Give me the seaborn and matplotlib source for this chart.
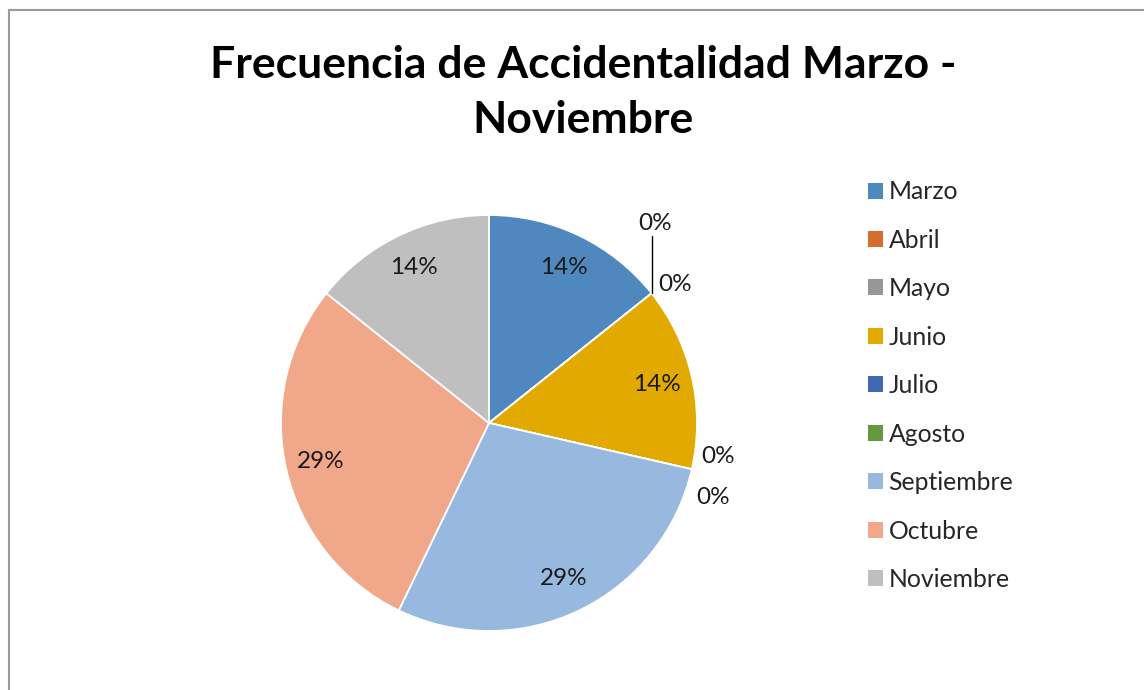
import numpy as np
import matplotlib
matplotlib.use("Agg")
import matplotlib.pyplot as plt
import seaborn as sns
from matplotlib.patches import Patch, Rectangle


months = ['Marzo', 'Abril', 'Mayo', 'Junio', 'Julio', 'Agosto',
          'Septiembre', 'Octubre', 'Noviembre']
accidents = [1, 0, 0, 1, 0, 0, 2, 2, 1]
colors = ['#4F88BE', '#D56E2D', '#979797', '#E2AA00', '#3E6AB4',
          '#66993E', '#97B8DF', '#F0A78A', '#BFBFBF']

sns.set_theme(style="white")
plt.rcParams['font.family'] = ['Lato', 'DejaVu Sans']

fig = plt.figure(figsize=(11.44, 6.9), dpi=100)
fig.patch.set_facecolor('white')

# frame of the chart area (left and top edges visible)
fig.add_artist(Rectangle((9 / 1144, -0.1), 1.2, (690 - 10) / 690 + 0.1,
                         transform=fig.transFigure, fill=False,
                         edgecolor='#9a9a9a', linewidth=1.5))

ax = fig.add_axes([281 / 1144, 59 / 690, 416 / 1144, 416 / 690])

total = sum(accidents)
wedges, _ = ax.pie(accidents, colors=colors, startangle=90, counterclock=False,
                   radius=1, wedgeprops=dict(edgecolor='white', linewidth=1.3))
ax.set_xlim(-1, 1)
ax.set_ylim(-1, 1)
ax.set_aspect('equal')
ax.axis('off')

# data labels
zero_offsets = {'Abril': (0.8, 0.96, True), 'Mayo': (0.895, 0.668, False),
                'Julio': (1.1, -0.163, False), 'Agosto': (1.077, -0.356, False)}
for w, m, v in zip(wedges, months, accidents):
    pct = '{:.0f}%'.format(100 * v / total)
    if v > 0:
        mid = np.deg2rad((w.theta1 + w.theta2) / 2)
        ax.text(0.83 * np.cos(mid), 0.83 * np.sin(mid), pct, ha='center',
                va='center', fontsize=17.5, color='#1a1a1a')
    else:
        ang = np.deg2rad(w.theta1)
        ex, ey = np.cos(ang), np.sin(ang)
        lx, ly, line = zero_offsets[m]
        ax.text(lx, ly, pct, ha='center', va='center', fontsize=17.5,
                color='#1a1a1a', clip_on=False)
        if line:
            ax.plot([ex, ex], [ey, 0.9], color='black', linewidth=1,
                    clip_on=False)

fig.text(0.51, 0.866, 'Frecuencia de Accidentalidad Marzo -\nNoviembre',
         ha='center', va='center', fontsize=32, fontweight='bold',
         linespacing=1.45, color='black')

handles = [Patch(facecolor=c, edgecolor='none') for c in colors]
fig.legend(handles, months, loc='upper left', bbox_to_anchor=(0.739, 0.771),
           frameon=False, fontsize=17.8, handlelength=0.62, handleheight=0.62,
           handletextpad=0.22, labelspacing=1.03)

fig.savefig('out.png', dpi=100, facecolor='white')
